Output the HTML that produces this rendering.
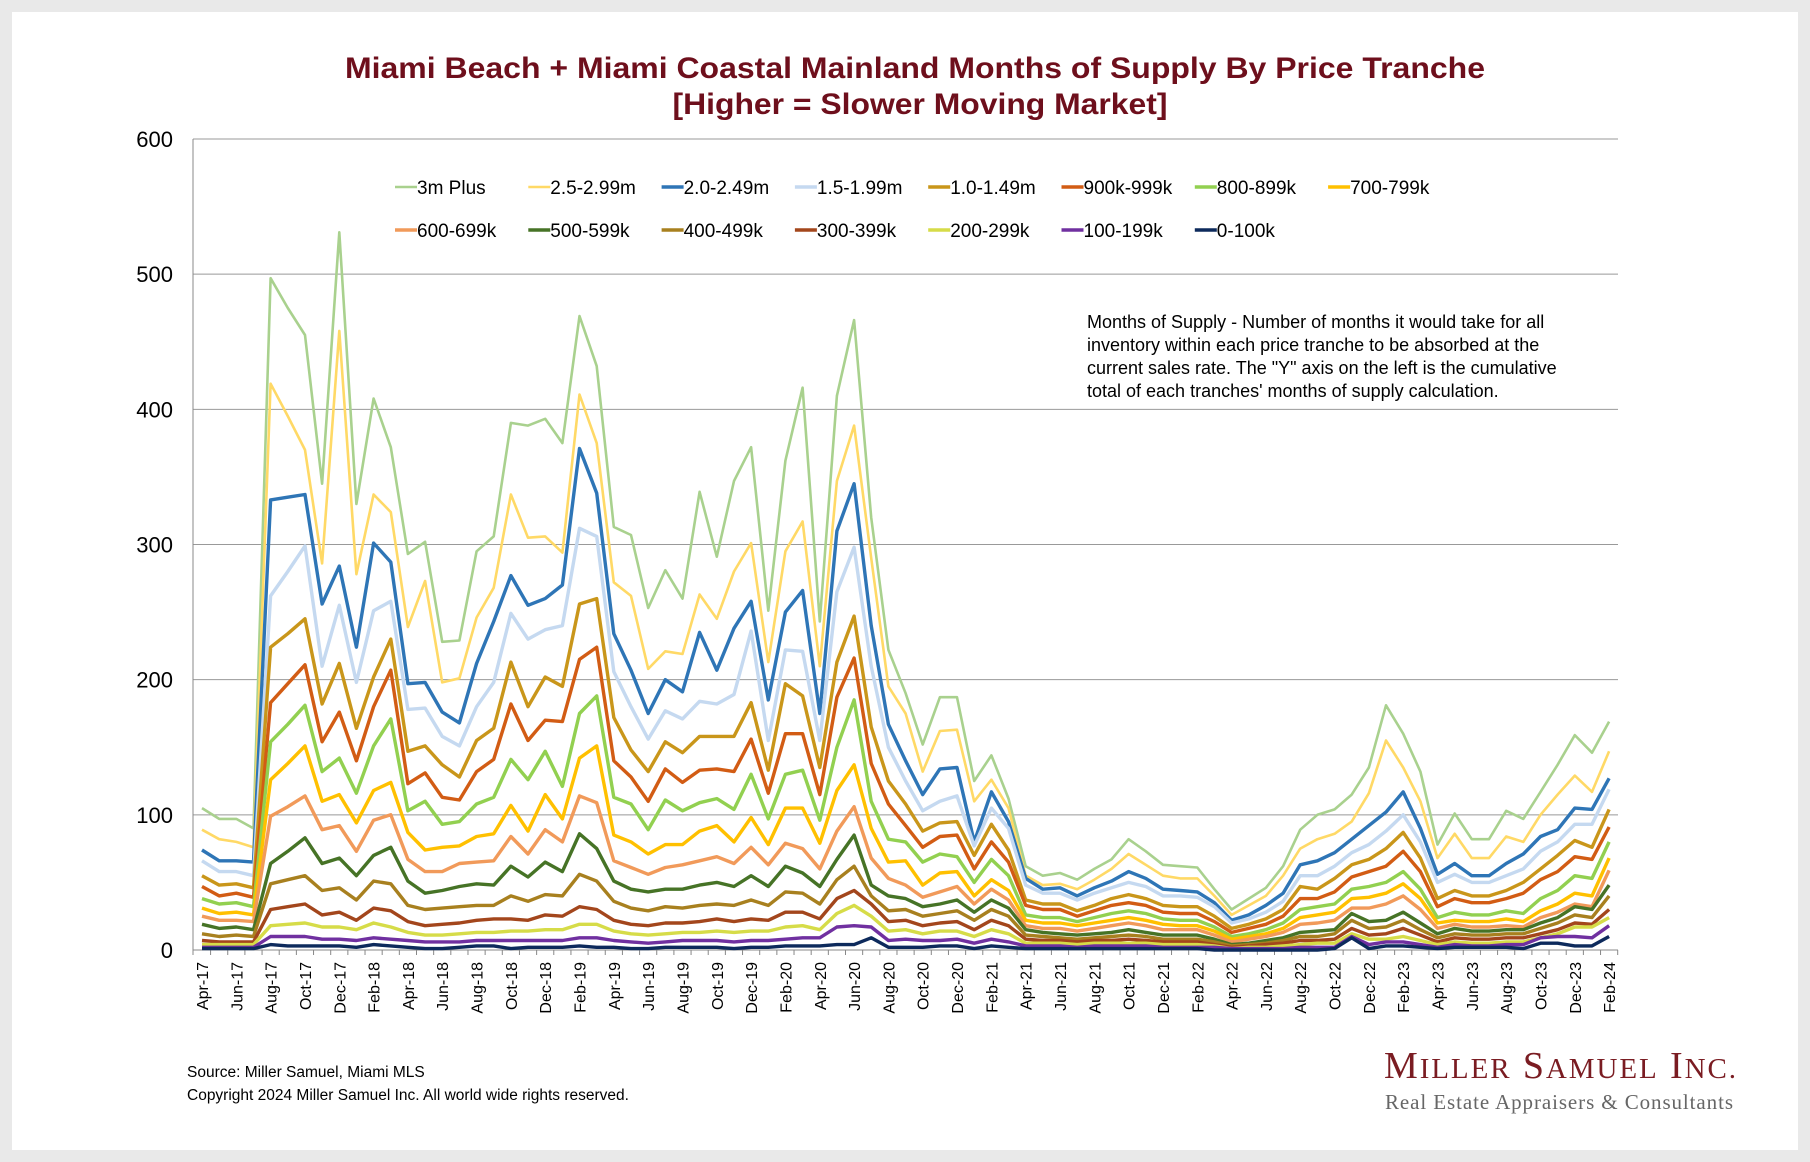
<!DOCTYPE html>
<html><head><meta charset="utf-8"><style>
html,body{margin:0;padding:0;background:#e9e9e9;}
#wrap{position:absolute;left:0;top:0;width:1810px;height:1162px;background:#e9e9e9;}
#panel{position:absolute;left:12px;top:12px;width:1786px;height:1138px;background:#fff;}
svg{position:absolute;left:0;top:0;}
</style></head><body>
<div id="wrap">
<div id="panel"></div>
<svg id="chart" width="1810" height="1162" font-family="'Liberation Sans', Arial, sans-serif">
<text x="915" y="78" text-anchor="middle" font-size="30" font-weight="bold" fill="#6e0f1c" textLength="1140" lengthAdjust="spacingAndGlyphs">Miami Beach + Miami Coastal Mainland Months of Supply By Price Tranche</text>
<text x="920" y="114" text-anchor="middle" font-size="30" font-weight="bold" fill="#6e0f1c" textLength="495" lengthAdjust="spacingAndGlyphs">[Higher = Slower Moving Market]</text>
<g id="grid"></g>
<g id="xlabels"></g>
<g id="series"></g>
<g id="legend"></g>
<g font-size="18" fill="#000">
<text x="1087" y="328">Months of Supply - Number of months it would take for all</text>
<text x="1087" y="351">inventory within each price tranche to be absorbed at the</text>
<text x="1087" y="374">current sales rate. The "Y" axis on the left is the cumulative</text>
<text x="1087" y="397">total of each tranches' months of supply calculation.</text>
</g>
<text x="187" y="1077" font-size="15.5">Source: Miller Samuel, Miami MLS</text>
<text x="187" y="1100" font-size="15.5">Copyright 2024 Miller Samuel Inc.  All world wide rights reserved.</text>
<text x="1384" y="1078" font-family="'Liberation Serif', serif" font-size="38" fill="#7a1c22" textLength="352">M<tspan font-size="29">ILLER</tspan> S<tspan font-size="29">AMUEL</tspan> I<tspan font-size="29">NC.</tspan></text>
<text x="1385" y="1109" font-family="'Liberation Serif', serif" font-size="21" fill="#666" textLength="348">Real Estate Appraisers &amp; Consultants</text>
</svg>
</div>
<script>
const months=["Apr-17","May-17","Jun-17","Jul-17","Aug-17","Sep-17","Oct-17","Nov-17","Dec-17","Jan-18","Feb-18","Mar-18","Apr-18","May-18","Jun-18","Jul-18","Aug-18","Sep-18","Oct-18","Nov-18","Dec-18","Jan-19","Feb-19","Mar-19","Apr-19","May-19","Jun-19","Jul-19","Aug-19","Sep-19","Oct-19","Nov-19","Dec-19","Jan-20","Feb-20","Mar-20","Apr-20","May-20","Jun-20","Jul-20","Aug-20","Sep-20","Oct-20","Nov-20","Dec-20","Jan-21","Feb-21","Mar-21","Apr-21","May-21","Jun-21","Jul-21","Aug-21","Sep-21","Oct-21","Nov-21","Dec-21","Jan-22","Feb-22","Mar-22","Apr-22","May-22","Jun-22","Jul-22","Aug-22","Sep-22","Oct-22","Nov-22","Dec-22","Jan-23","Feb-23","Mar-23","Apr-23","May-23","Jun-23","Jul-23","Aug-23","Sep-23","Oct-23","Nov-23","Dec-23","Jan-24","Feb-24"];
const yTicks=[0,100,200,300,400,500,600];
const seriesNames=["3m Plus","2.5-2.99m","2.0-2.49m","1.5-1.99m","1.0-1.49m","900k-999k","800-899k","700-799k","600-699k","500-599k","400-499k","300-399k","200-299k","100-199k","0-100k"];
const s3mPlus=[105,97,97,90,497,475,455,345,531,330,408,372,293,302,228,229,295,306,390,388,393,375,469,432,313,307,253,281,260,339,291,347,372,251,362,416,243,410,466,320,222,190,152,187,187,125,144,112,62,55,57,52,60,67,82,73,63,62,61,45,30,38,46,62,89,100,104,115,135,181,160,132,78,101,82,82,103,97,117,137,159,146,169];
const s25=[89,82,80,76,419,395,370,286,458,278,337,324,239,273,198,201,246,268,337,305,306,294,411,375,272,262,208,221,219,263,245,280,301,213,295,317,210,347,388,290,195,175,132,162,163,110,126,105,55,48,49,45,52,60,71,63,55,53,53,40,26,33,40,55,75,82,86,95,116,155,135,110,68,86,68,68,84,80,100,115,129,117,147];
const s20=[74,66,66,65,333,335,337,256,284,224,301,287,197,198,176,168,212,243,277,255,260,270,371,338,234,207,175,200,191,235,207,238,258,185,250,266,175,310,345,240,167,140,115,134,135,80,117,95,53,45,46,40,46,51,58,53,45,44,43,35,22,26,33,42,63,66,72,82,92,102,117,90,56,64,55,55,64,71,84,89,105,104,127];
const s15=[66,58,58,55,262,280,299,210,255,198,251,258,178,179,158,151,180,198,249,230,237,240,312,306,206,180,156,177,171,184,182,189,236,155,222,221,155,265,298,210,150,125,103,110,114,77,105,90,48,42,42,37,42,46,50,47,40,40,39,32,20,23,28,36,55,55,62,72,78,88,100,80,50,56,50,50,55,60,73,80,93,93,119];
const s10=[55,48,49,46,224,234,245,182,212,164,202,230,147,151,137,128,155,164,213,180,202,195,256,260,172,148,132,154,146,158,158,158,183,133,197,188,135,213,247,165,125,108,88,94,95,70,93,74,37,34,34,29,33,38,41,38,33,32,32,25,16,19,23,30,47,45,53,63,67,75,87,68,38,44,40,40,44,50,60,70,81,76,104];
const s900=[47,40,42,39,183,197,211,154,176,140,180,207,123,131,113,111,132,141,182,155,170,169,215,224,140,128,110,134,124,133,134,132,156,116,160,160,115,187,216,138,108,92,76,84,85,60,80,65,33,30,30,25,29,33,35,33,28,27,27,21,13,16,19,25,38,38,43,54,58,62,73,58,32,38,35,35,38,42,52,58,69,67,91];
const s800=[38,34,35,32,154,167,181,132,142,116,151,171,103,110,93,95,108,113,141,126,147,121,175,188,113,108,89,111,103,109,112,104,130,97,130,133,96,150,185,110,82,80,65,71,69,50,67,55,26,24,24,21,24,27,29,27,23,22,22,17,10,12,15,20,30,32,34,45,47,50,58,45,24,28,26,26,29,27,38,44,55,53,80];
const s700=[31,27,28,26,126,138,151,110,115,94,118,124,87,74,76,77,84,86,107,88,115,97,142,151,85,80,71,78,78,88,92,80,98,78,105,105,79,118,137,90,65,66,48,57,58,40,52,44,22,20,20,18,20,22,24,22,19,18,18,14,8,10,12,16,24,26,28,38,39,42,49,38,20,22,21,21,23,21,29,34,42,40,68];
const s600=[25,22,22,21,99,106,114,89,92,73,96,100,67,58,58,64,65,66,84,71,89,80,114,109,66,61,56,61,63,66,69,64,76,63,79,75,60,88,106,68,53,48,39,43,47,34,45,37,18,16,16,14,16,18,20,18,15,15,15,11,6,8,10,13,19,20,22,31,31,34,40,30,16,19,17,17,18,17,24,28,34,32,59];
const s500=[19,16,17,15,64,73,83,64,68,55,70,76,51,42,44,47,49,48,62,54,65,58,86,75,51,45,43,45,45,48,50,47,55,47,62,57,47,67,85,48,40,38,32,34,37,28,37,31,15,13,12,11,12,13,15,13,11,11,11,8,4,5,7,9,13,14,15,27,21,22,28,20,12,16,14,14,15,15,20,24,32,30,48];
const s400=[12,10,11,10,49,52,55,44,46,37,51,49,33,30,31,32,33,33,40,36,41,40,56,51,36,31,29,32,31,33,34,33,37,33,43,42,34,52,62,40,29,30,25,27,29,22,30,25,11,10,9,8,9,10,11,10,8,8,8,6,3,4,5,7,10,10,12,22,16,17,22,15,9,12,11,11,12,12,16,20,26,24,40];
const s300=[7,6,6,6,30,32,34,26,28,22,31,29,21,18,19,20,22,23,23,22,26,25,32,30,22,19,18,20,20,21,23,21,23,22,28,28,23,38,44,34,21,22,18,20,21,15,22,18,8,7,7,6,7,7,8,7,6,6,6,4,2,3,4,5,7,7,8,16,11,12,16,11,6,9,8,8,9,9,12,15,20,19,30];
const s200=[4,4,4,4,18,19,20,17,17,15,20,17,13,11,11,12,13,13,14,14,15,15,19,19,14,12,11,12,13,13,14,13,14,14,17,18,15,27,33,25,14,15,12,14,14,10,15,12,5,5,5,4,5,5,5,5,4,4,4,3,1,2,2,3,4,5,5,12,8,8,10,7,4,6,5,5,6,6,9,12,17,17,24];
const s100=[2,2,2,2,10,10,10,8,8,7,9,8,7,6,6,6,7,7,7,7,7,7,9,9,7,6,5,6,7,7,7,6,7,7,8,9,9,17,18,17,7,8,7,7,8,5,8,6,3,3,3,2,3,3,3,3,2,2,2,2,1,1,1,1,2,2,2,10,4,6,6,4,2,4,3,3,4,4,9,10,10,9,18];
const s0=[1,1,1,1,4,3,3,3,3,2,4,3,2,1,1,2,3,3,1,2,2,2,3,2,2,1,1,2,2,2,2,1,2,2,3,3,3,4,4,9,2,2,2,3,3,1,3,2,1,1,1,1,1,1,1,1,1,1,1,0,0,0,0,0,0,0,1,9,1,3,3,2,1,2,2,2,2,1,5,5,3,3,10];
const seriesValues=[s3mPlus,s25,s20,s15,s10,s900,s800,s700,s600,s500,s400,s300,s200,s100,s0];
const seriesColors=["#a9d18e","#ffd966","#2e75b6","#c5d9f0","#c9961a","#d25c14","#92d050","#ffc000","#f19a5a","#467326","#a8801f","#a3461c","#d6dc48","#7030a0","#0d2a5c"];

const NS="http://www.w3.org/2000/svg";
const X0=202, DX=17.16, Y0=950, YS=811/600, XL=193, XR=1618;
function xPos(i){return X0+i*DX;}
function yPos(v){return Y0-v*YS;}
function mk(tag,attrs,parent){const e=document.createElementNS(NS,tag);for(const k in attrs)e.setAttribute(k,attrs[k]);parent.appendChild(e);return e;}

const grid=document.getElementById('grid');
yTicks.forEach(t=>{
  const ln=mk('line',{x1:XL,x2:XR,y1:yPos(t),y2:yPos(t),stroke:t===0?'#888':'#999','stroke-width':1},grid);
  
  
  const tx=mk('text',{x:173,y:yPos(t)+8,'text-anchor':'end','font-size':22,fill:'#000'},grid);
  tx.textContent=t;
  
  
});
const ax=mk('line',{x1:XL,x2:XL,y1:yPos(600),y2:Y0+5,stroke:'#888','stroke-width':1},grid);



const xl=document.getElementById('xlabels');
months.forEach((m,i)=>{
  const tk=mk('line',{x1:xPos(i)+DX/2,x2:xPos(i)+DX/2,y1:Y0,y2:Y0+5,stroke:'#888'},xl);
  
  
  if(i%2===0){
    const x=xPos(i)+6,y=Y0+12;
    const t=mk('text',{x:x,y:y,'text-anchor':'end','font-size':16,fill:'#000',transform:`rotate(-90 ${x} ${y})`},xl);
    t.textContent=m;
    
    
  }
});

const sg=document.getElementById('series');
seriesValues.forEach((vals,si)=>{
  const d=vals.map((v,i)=>(i?'L':'M')+xPos(i).toFixed(1)+' '+yPos(v).toFixed(1)).join(' ');
  const p=mk('path',{d:d,fill:'none',stroke:seriesColors[si],'stroke-width':si<2?2.6:3.4,'stroke-linejoin':'round'},sg);
  
  
});

const lg=document.getElementById('legend');
seriesNames.forEach((n,i)=>{
  const row=i<8?0:1, col=i<8?i:i-8;
  const x=395+col*133.3, y=row?230:187;
  const g=mk('g',{},lg);
  
  
  mk('line',{x1:x,x2:x+22,y1:y,y2:y,stroke:seriesColors[i],'stroke-width':i<2?2.6:3.4},g);
  const t=mk('text',{x:x+22,y:y+7,'font-size':19,fill:'#000'},g);
  t.textContent=n;
});
</script>
</body></html>
